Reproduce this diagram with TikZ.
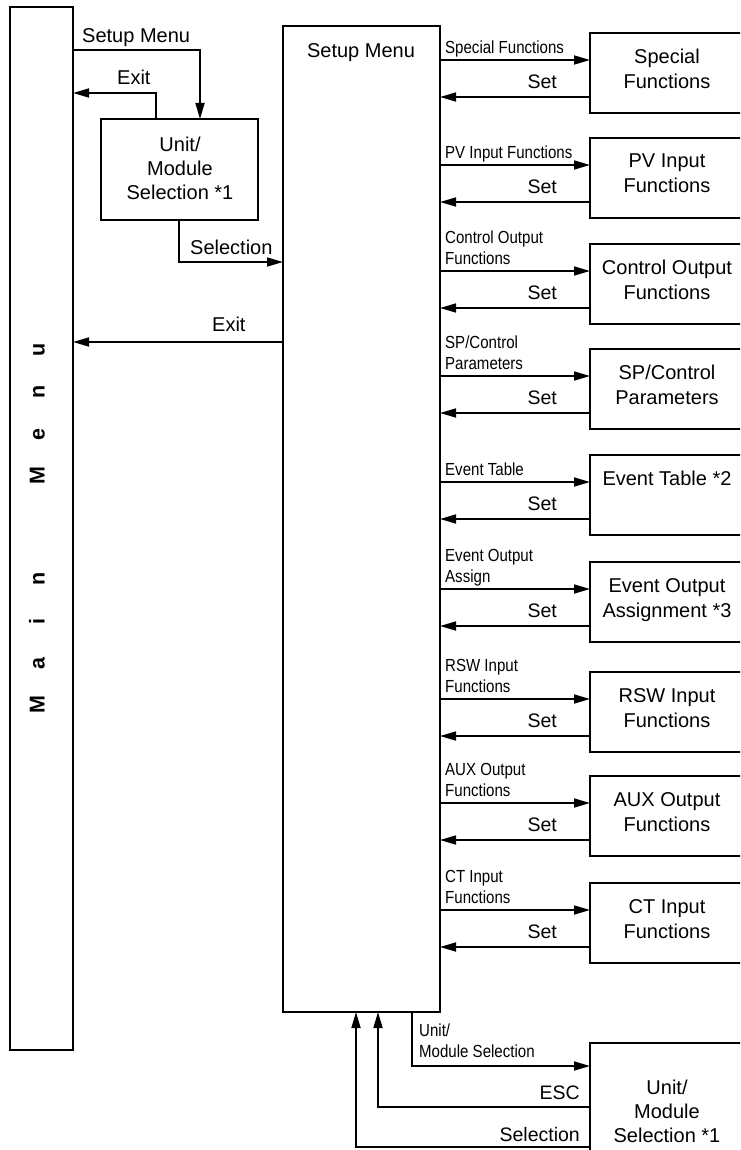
\documentclass[tikz,border=0pt]{standalone}
\usepackage{fontspec}
\setmainfont{Liberation Sans}
\newfontfamily\narrowfont[FakeStretch=0.86]{Liberation Sans}
\usetikzlibrary{arrows.meta,calc}
\tikzset{
  box/.style={draw, line width=1.7pt, inner sep=0pt, outer sep=0pt, anchor=north west},
  rbox/.style={box, minimum width=170, minimum height=80},
  arr/.style={line width=1.7pt, -{Triangle[length=16pt,width=9pt]}},
  btxt/.style={inner sep=0pt, anchor=north, align=center, font=\fontsize{20}{25}\selectfont},
  utxt/.style={inner sep=0pt, anchor=north, align=center, font=\fontsize{20}{24}\selectfont},
  small/.style={inner sep=0pt, anchor=south west, align=left, text depth=0pt, font=\narrowfont\fontsize{17.5}{21}\selectfont},
  lbl/.style={inner sep=0pt, anchor=south west, text depth=0pt, font=\fontsize{20}{24}\selectfont},
  setl/.style={inner sep=0pt, anchor=south east, text depth=0pt, font=\fontsize{19.5}{24}\selectfont},
  mm/.style={inner sep=0pt, rotate=90, font=\bfseries\fontsize{21.5}{24}\selectfont}
}
\newcommand\mkrow[4]{%
  \node[rbox] (#1) at (590,#2) {};
  \node[btxt] (#1-t) at (667,#2+16) {#4};
  \coordinate (#1-i) at (590,#2+27);
  \coordinate (#1-s) at (590,#2+64);
  \draw[arr] (setup.east |- #1-i) -- (#1.west |- #1-i);
  \draw[arr] (#1.west |- #1-s) -- (setup.east |- #1-s);
  \node[small] (#1-l) at (445,#2+21) {#3};
  \node[setl] (#1-set) at (557,#2+56) {Set};
}
\newcommand\mmL[1]{\makebox[42pt]{#1}}
\begin{document}
\begin{tikzpicture}[x=1pt,y=-1pt]
\useasboundingbox (0,0) rectangle (740,1150);
\clip (0,0) rectangle (740,1150);
% main menu
\node[box, minimum width=63, minimum height=1043] (main) at (10,7) {};
\node[mm] (mmtext) at (37,527.5) {\mmL{M}\mmL{a}\mmL{i}\mmL{n}\hspace{61pt}\mmL{M}\mmL{e}\mmL{n}\mmL{u}};
% setup menu
\node[box, minimum width=157, minimum height=986] (setup) at (283,26) {};
\node[utxt] (setupt) at (361,43) {Setup Menu};
% unit/module selection (top)
\node[box, minimum width=157, minimum height=101] (ubox) at (101,119) {};
\node[utxt] (uboxt) at (180,137) {Unit/\\Module\\Selection *1};
\coordinate (c1) at (200,50);
\coordinate (c2) at (156,93);
\coordinate (c3) at (179,262);
\coordinate (c4) at (0,342);
\draw[arr] (main.east |- c1) -| (c1 |- ubox.north);
\draw[arr] (c2 |- ubox.north) |- (main.east |- c2);
\draw[arr] (c3 |- ubox.south) |- (setup.west |- c3);
\draw[arr] (setup.west |- c4) -- (main.east |- c4);
\node[lbl] (l1) at (82,43) {Setup Menu};
\node[lbl] (l2) at (117,85) {Exit};
\node[lbl] (l3) at (190,255) {Selection};
\node[lbl] (l4) at (212,332) {Exit};
% rows
\mkrow{r1}{33}{Special Functions}{Special\\Functions}
\mkrow{r2}{138}{PV Input Functions}{PV Input\\Functions}
\mkrow{r3}{244}{Control Output\\Functions}{Control Output\\Functions}
\mkrow{r4}{349}{SP/Control\\Parameters}{SP/Control\\Parameters}
\mkrow{r5}{455}{Event Table}{Event Table *2}
\mkrow{r6}{562}{Event Output\\Assign}{Event Output\\Assignment *3}
\mkrow{r7}{672}{RSW Input\\Functions}{RSW Input\\Functions}
\mkrow{r8}{776}{AUX Output\\Functions}{AUX Output\\Functions}
\mkrow{r9}{883}{CT Input\\Functions}{CT Input\\Functions}
% bottom unit/module selection
\node[box, minimum width=170, minimum height=150] (ubot) at (590,1043) {};
\node[utxt] (ubott) at (667,1080) {Unit/\\Module\\Selection *1};
\coordinate (c5) at (412,1066);
\coordinate (c6) at (378,1107);
\coordinate (c7) at (356,1147);
\draw[arr] (c5 |- setup.south) |- (ubot.west |- c5);
\draw[arr] (ubot.west |- c6) -| (c6 |- setup.south);
\draw[arr] (ubot.west |- c7) -| (c7 |- setup.south);
\node[small] (l5) at (419,1058) {Unit/\\Module Selection};
\node[setl] (l6) at (580,1100) {ESC};
\node[setl] (l7) at (580,1142) {Selection};
\end{tikzpicture}
\end{document}
